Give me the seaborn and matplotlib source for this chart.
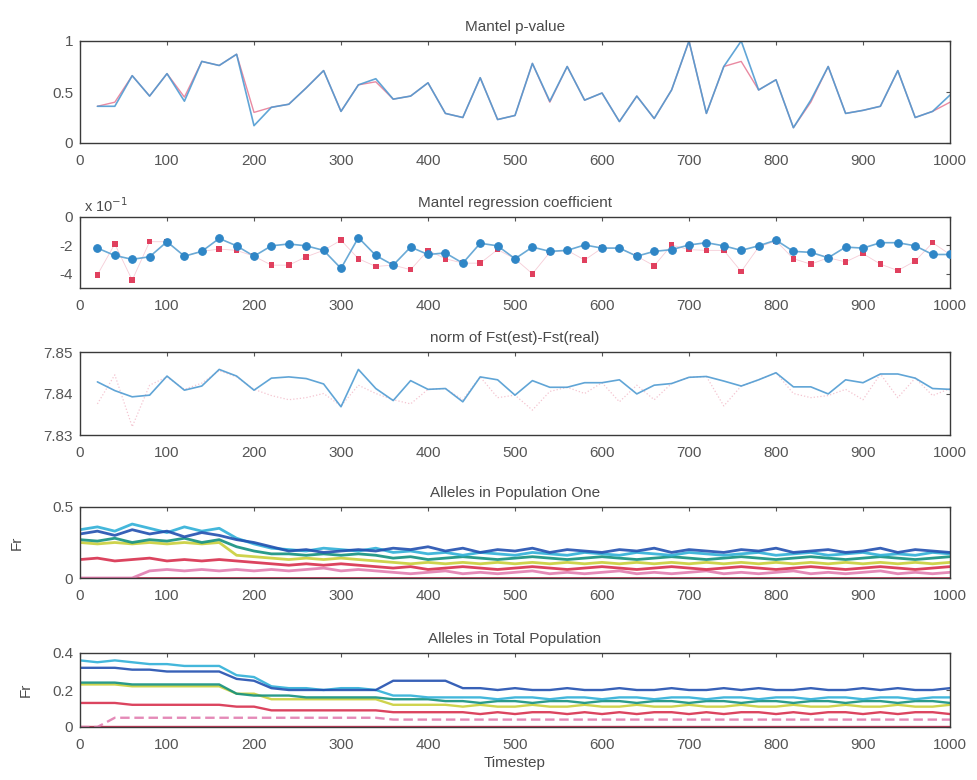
import matplotlib
matplotlib.use("Agg")
import matplotlib.pyplot as plt
import seaborn as sns
import pandas as pd

# ---------------- data ----------------
t50 = list(range(20, 1001, 20))
t51 = list(range(0, 1001, 20))

pval_blue = [0.36,0.36,0.66,0.46,0.68,0.41,0.80,0.76,0.87,0.17,
             0.35,0.38,0.54,0.71,0.31,0.57,0.63,0.43,0.46,0.59,
             0.29,0.25,0.64,0.23,0.27,0.78,0.41,0.75,0.42,0.49,
             0.21,0.46,0.24,0.52,1.00,0.29,0.75,1.00,0.52,0.62,
             0.15,0.42,0.75,0.29,0.32,0.36,0.71,0.25,0.31,0.47]
pval_red = [0.36,0.40,0.66,0.46,0.68,0.45,0.80,0.76,0.87,0.30,
            0.35,0.38,0.54,0.71,0.31,0.57,0.60,0.43,0.46,0.59,
            0.29,0.25,0.64,0.23,0.27,0.78,0.40,0.75,0.42,0.49,
            0.21,0.46,0.24,0.52,1.00,0.29,0.75,0.80,0.52,0.62,
            0.15,0.40,0.75,0.29,0.32,0.36,0.71,0.25,0.31,0.40]

coef_blue = [-2.19,-2.71,-2.98,-2.80,-1.74,-2.76,-2.42,-1.51,-2.03,-2.76,
             -2.03,-1.90,-2.03,-2.35,-3.62,-1.45,-2.71,-3.39,-2.12,-2.64,
             -2.53,-3.25,-1.85,-2.03,-2.94,-2.12,-2.42,-2.35,-1.97,-2.19,
             -2.19,-2.76,-2.42,-2.30,-1.97,-1.81,-2.03,-2.35,-2.03,-1.63,
             -2.42,-2.49,-2.87,-2.12,-2.19,-1.81,-1.81,-2.03,-2.64,-2.64]
coef_red = [-4.07,-1.90,-4.45,-1.74,-1.74,-2.76,-2.42,-2.26,-2.35,-2.76,
            -3.39,-3.39,-2.80,-2.35,-1.63,-2.94,-3.48,-3.39,-3.71,-2.35,
            -2.94,-3.25,-3.25,-2.30,-2.94,-4.00,-2.49,-2.35,-3.03,-2.19,
            -2.19,-2.76,-3.44,-1.97,-2.30,-2.35,-2.35,-3.84,-2.12,-1.68,
            -2.94,-3.32,-2.87,-3.16,-2.58,-3.32,-3.77,-3.10,-1.81,-2.64]

fst_blue = [7.8428,7.8407,7.8392,7.8396,7.8442,7.8408,7.8418,7.8458,7.8442,7.8408,
            7.8437,7.8440,7.8436,7.8423,7.8368,7.8458,7.8412,7.8383,7.8431,7.8410,
            7.8412,7.8380,7.8440,7.8433,7.8396,7.8431,7.8415,7.8415,7.8426,7.8426,
            7.8433,7.8399,7.8420,7.8424,7.8439,7.8441,7.8430,7.8418,7.8433,7.8450,
            7.8416,7.8416,7.8399,7.8433,7.8426,7.8447,7.8447,7.8437,7.8412,7.8410]
fst_red = [7.8375,7.8445,7.8320,7.8420,7.8440,7.8410,7.8425,7.8455,7.8440,7.8410,
           7.8395,7.8385,7.8390,7.8400,7.8370,7.8420,7.8400,7.8385,7.8375,7.8410,
           7.8412,7.8385,7.8440,7.8390,7.8396,7.8360,7.8405,7.8415,7.8400,7.8426,
           7.8380,7.8420,7.8385,7.8424,7.8439,7.8441,7.8370,7.8418,7.8433,7.8450,
           7.8400,7.8390,7.8395,7.8410,7.8385,7.8447,7.8390,7.8437,7.8395,7.8412]

# Alleles in Population One (t = 0, 20, ..., 1000)
p1_blue = [0.31,0.33,0.30,0.34,0.31,0.33,0.29,0.32,0.30, 0.27,0.25,0.22,
           0.19,0.20,0.18,0.19,0.20,0.19,
           0.21,0.20,0.22,0.19,0.21,0.18,0.20,0.19,0.21,0.18,
           0.20,0.19,0.18,0.20,0.19,0.21,0.18,0.20,0.19,0.18,
           0.20,0.19,0.21,0.18,0.19,0.20,0.18,0.19,0.21,0.18,
           0.20,0.19,0.18]
p1_cyan = [0.34,0.36,0.33,0.38,0.35,0.32,0.36,0.33,0.35, 0.28,0.24,0.21,
           0.20,0.19,0.21,0.20,0.19,0.21,
           0.18,0.19,0.17,0.18,0.16,0.18,0.17,0.16,0.18,0.17,
           0.16,0.18,0.17,0.16,0.18,0.17,0.16,0.18,0.17,0.16,
           0.17,0.18,0.16,0.17,0.18,0.16,0.17,0.18,0.16,0.17,
           0.16,0.18,0.17]
p1_teal = [0.27,0.26,0.28,0.25,0.27,0.26,0.28,0.25,0.27, 0.22,0.19,0.17,
           0.17,0.16,0.17,0.16,0.17,0.16,
           0.14,0.15,0.13,0.14,0.15,0.14,0.13,0.14,0.15,0.14,
           0.13,0.14,0.15,0.14,0.13,0.14,0.15,0.14,0.13,0.14,
           0.15,0.14,0.13,0.14,0.15,0.14,0.13,0.14,0.15,0.14,
           0.13,0.14,0.15]
p1_yellow = [0.25,0.24,0.25,0.24,0.25,0.24,0.25,0.24,0.25, 0.16,0.15,0.14,
             0.13,0.14,0.13,0.14,0.13,0.12,
             0.11,0.10,0.11,0.10,0.11,0.10,0.11,0.10,0.11,0.10,
             0.11,0.10,0.11,0.10,0.11,0.10,0.11,0.10,0.11,0.10,
             0.11,0.10,0.11,0.10,0.11,0.10,0.11,0.10,0.11,0.10,
             0.11,0.10,0.11]
p1_red = [0.13,0.14,0.12,0.13,0.14,0.12,0.13,0.12,0.13, 0.12,0.11,0.10,
          0.09,0.10,0.09,0.10,0.09,0.08,
          0.07,0.08,0.06,0.07,0.08,0.07,0.06,0.07,0.08,0.07,
          0.06,0.07,0.08,0.07,0.06,0.07,0.08,0.07,0.06,0.07,
          0.08,0.07,0.06,0.07,0.08,0.07,0.06,0.07,0.08,0.07,
          0.06,0.07,0.08]
p1_pink = [0.00,0.00,0.00,0.00,0.05,0.06,0.05,0.06,0.05, 0.06,0.05,0.06,
           0.05,0.06,0.07,0.05,0.06,0.05,
           0.04,0.03,0.04,0.05,0.03,0.04,0.03,0.04,0.05,0.03,
           0.04,0.03,0.04,0.05,0.03,0.04,0.03,0.04,0.05,0.03,
           0.04,0.03,0.04,0.05,0.03,0.04,0.03,0.04,0.05,0.03,
           0.04,0.03,0.04]
p1_zero = [0.0] * 51

# Alleles in Total Population
p5_blue = [0.32,0.32,0.32,0.31,0.31,0.30,0.30,0.30,0.30, 0.26,0.25,0.21,
           0.20,0.20,0.20,0.20,0.20,0.20,
           0.25,0.25,0.25,0.25,
           0.21,0.21,0.20,0.21,0.20,0.20,0.21,0.20,0.20,0.21,
           0.20,0.20,0.21,0.20,0.20,0.21,0.20,0.21,0.20,0.20,
           0.21,0.20,0.20,0.21,0.20,0.21,0.20,0.20,0.21]
p5_cyan = [0.36,0.35,0.36,0.35,0.34,0.34,0.33,0.33,0.33, 0.28,0.27,0.22,
           0.21,0.21,0.20,0.21,0.21,0.20,
           0.17,0.17,0.16,0.16,
           0.16,0.16,0.15,0.16,0.16,0.15,0.16,0.16,0.15,0.16,
           0.16,0.15,0.16,0.16,0.15,0.16,0.16,0.15,0.16,0.16,
           0.15,0.16,0.16,0.15,0.16,0.16,0.15,0.16,0.16]
p5_teal = [0.24,0.24,0.24,0.23,0.23,0.23,0.23,0.23,0.23, 0.18,0.17,0.17,
           0.17,0.16,0.16,0.16,0.16,0.16,
           0.15,0.15,0.15,0.14,
           0.14,0.13,0.14,0.14,0.13,0.14,0.14,0.13,0.14,0.14,
           0.13,0.14,0.14,0.13,0.14,0.14,0.13,0.14,0.14,0.13,
           0.14,0.14,0.13,0.14,0.14,0.13,0.14,0.14,0.13]
p5_yellow = [0.23,0.23,0.23,0.22,0.22,0.22,0.22,0.22,0.22, 0.18,0.18,0.15,
             0.15,0.15,0.15,0.15,0.15,0.15,
             0.12,0.12,0.12,0.12,
             0.11,0.12,0.11,0.11,0.12,0.11,0.11,0.12,0.11,0.11,
             0.12,0.11,0.11,0.12,0.11,0.11,0.12,0.11,0.11,0.12,
             0.11,0.11,0.12,0.11,0.11,0.12,0.11,0.11,0.12]
p5_red = [0.13,0.13,0.13,0.12,0.12,0.12,0.12,0.12,0.12, 0.11,0.11,0.09,
          0.09,0.09,0.09,0.09,0.09,0.09,
          0.08,0.08,0.08,0.08,
          0.08,0.07,0.08,0.07,0.08,0.08,0.07,0.08,0.07,0.08,
          0.07,0.08,0.08,0.07,0.08,0.07,0.08,0.08,0.07,0.08,
          0.07,0.08,0.08,0.07,0.08,0.07,0.08,0.08,0.07]
p5_pink = [0.00,0.00,0.05,0.05,0.05,0.05,0.05,0.05,0.05, 0.05,0.05,0.05,
           0.05,0.05,0.05,0.05,0.05,0.05,
           0.04,0.04,0.04,0.04,
           0.04,0.04,0.04,0.04,0.04,0.04,0.04,0.04,0.04,0.04,
           0.04,0.04,0.04,0.04,0.04,0.04,0.04,0.04,0.04,0.04,
           0.04,0.04,0.04,0.04,0.04,0.04,0.04,0.04,0.04]
p5_zero = [0.0] * 51

titles = ["Mantel p-value", "Mantel regression coefficient",
          "norm of Fst(est)-Fst(real)", "Alleles in Population One",
          "Alleles in Total Population"]
xticks = list(range(0, 1001, 100))

# ---------------- style ----------------
sns.set_style("white")
plt.rcParams["font.family"] = ["Liberation Sans", "DejaVu Sans"]
TXT = "#4a4a4a"
plt.rcParams["text.color"] = TXT

C_BLUE = "#4f9bd2"
C_RED = "#e0587a"
allele_colors = {"blue": "#2250b0", "cyan": "#2fb0d8", "teal": "#13907f",
                 "yellow": "#c9cf3a", "red": "#d8304e", "pink": "#e27db0",
                 "zero": "#c4264a"}

fig = plt.figure(figsize=(9.77, 7.80), dpi=100)
W, H = 977.0, 780.0
L, R = 80, 950
boxes = [(41, 143), (217, 288), (352, 435), (507, 578), (653, 727)]
axes = []
for top, bot in boxes:
    ax = fig.add_axes([L / W, 1 - bot / H, (R - L) / W, (bot - top) / H])
    axes.append(ax)


def style(ax, title):
    ax.set_xlim(0, 1000)
    ax.set_xticks(xticks)
    ax.tick_params(direction="in", top=True, right=True, length=3,
                   labelsize=11, colors="#555555", pad=8)
    ax.tick_params(axis="y", pad=5)
    for s in ax.spines.values():
        s.set_color("#3a3a3a")
        s.set_linewidth(1.0)
    ax.set_title(title, fontsize=11, color=TXT, pad=7)
    ax.set_xlabel("")
    ax.set_ylabel("")


# Panel 1: Mantel p-value
ax = axes[0]
sns.lineplot(x=t50, y=pval_red, ax=ax, color=C_RED, lw=1.0, alpha=0.7)
sns.lineplot(x=t50, y=pval_blue, ax=ax, color=C_BLUE, lw=1.2, alpha=0.9)
ax.set_ylim(0, 1)
ax.set_yticks([0, 0.5, 1])
ax.set_yticklabels(["0", "0.5", "1"])
style(ax, titles[0])

# Panel 2: Mantel regression coefficient
ax = axes[1]
sns.lineplot(x=t50, y=coef_red, ax=ax, color=C_RED, lw=0.6, alpha=0.3)
sns.scatterplot(x=t50, y=coef_red, ax=ax, color="#e0405e", marker="s",
                s=16, edgecolor="none", zorder=3)
sns.lineplot(x=t50, y=coef_blue, ax=ax, color="#6aaad6", lw=1.2,
             marker="o", markersize=5.5, markerfacecolor="#2f86c6",
             markeredgecolor="#2f86c6", zorder=4)
ax.set_ylim(-5, 0)
ax.set_yticks([-4, -2, 0])
ax.set_yticklabels(["-4", "-2", "0"])
style(ax, titles[1])
ax.text(0.005, 1.03, r"x 10$^{-1}$", transform=ax.transAxes, fontsize=10.5,
        color=TXT, ha="left", va="bottom")

# Panel 3: norm of Fst
ax = axes[2]
sns.lineplot(x=t50, y=fst_red, ax=ax, color=C_RED, lw=0.9, alpha=0.35,
             linestyle=":")
sns.lineplot(x=t50, y=fst_blue, ax=ax, color=C_BLUE, lw=1.2, alpha=0.9)
ax.set_ylim(7.83, 7.85)
ax.set_yticks([7.83, 7.84, 7.85])
ax.set_yticklabels(["7.83", "7.84", "7.85"])
style(ax, titles[2])


def allele_df(series):
    rows = []
    for name, vals in series.items():
        for tt, v in zip(t51, vals):
            rows.append({"Timestep": tt, "F": v, "allele": name})
    return pd.DataFrame(rows)


# Panel 4: Alleles in Population One
ax = axes[3]
df1 = allele_df({"zero": p1_zero, "pink": p1_pink, "red": p1_red,
                 "yellow": p1_yellow, "teal": p1_teal, "cyan": p1_cyan,
                 "blue": p1_blue})
sns.lineplot(data=df1, x="Timestep", y="F", hue="allele",
             palette=allele_colors, ax=ax, lw=2.0, legend=False,
             estimator=None, alpha=0.9)
ax.set_ylim(0, 0.5)
ax.set_yticks([0, 0.5])
ax.set_yticklabels(["0", "0.5"])
style(ax, titles[3])
ax.set_ylabel("Fr", fontsize=11, color=TXT, labelpad=20)

# Panel 5: Alleles in Total Population
ax = axes[4]
df5 = allele_df({"zero": p5_zero, "pink": p5_pink, "red": p5_red,
                 "yellow": p5_yellow, "teal": p5_teal, "cyan": p5_cyan,
                 "blue": p5_blue})
sns.lineplot(data=df5, x="Timestep", y="F", hue="allele",
             palette=allele_colors, ax=ax, lw=1.7, legend=False,
             estimator=None, alpha=0.9)
for line in ax.get_lines():
    if line.get_color() == allele_colors["pink"]:
        line.set_linestyle((0, (4, 2)))
ax.set_ylim(0, 0.4)
ax.set_yticks([0, 0.2, 0.4])
ax.set_yticklabels(["0", "0.2", "0.4"])
style(ax, titles[4])
ax.set_ylabel("Fr", fontsize=11, color=TXT, labelpad=14)
ax.set_xlabel("Timestep", fontsize=11, color=TXT, labelpad=3)

fig.savefig("out.png", dpi=100, facecolor="white")
